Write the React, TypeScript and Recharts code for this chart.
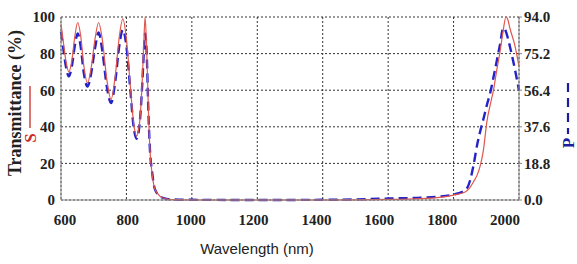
import { LineChart, Line, XAxis, YAxis, CartesianGrid } from 'recharts';

// wavelength samples (nm)
const wavelengths = [
  600, 606, 615, 624, 633, 642, 651, 660, 670, 681, 692, 704, 715, 726, 740, 753, 766, 778, 789, 800,
  812, 822, 831, 840, 848, 853, 857, 862, 867, 872, 878, 887, 903, 920, 940, 1000, 1200, 1400, 1500, 1600,
  1700, 1750, 1800, 1837, 1851, 1861, 1873, 1882, 1891, 1902, 1912, 1922, 1932, 1942, 1952, 1960, 1965,
  1972, 1988, 2000,
];

// S polarisation, left axis (%)
const sValues = [
  96, 88, 76, 70, 76, 89, 97, 90, 73, 64, 72, 88, 97, 88, 66, 55, 68, 89, 99, 88,
  62, 42, 35, 42, 64, 85, 100, 82, 50, 27, 15, 6, 2, 0.7, 0.2, 0, 0, 0, 0.1, 0.3,
  0.8, 1.3, 2.7, 4.5, 7, 10, 14, 19, 27, 43, 52, 60, 71, 81, 93, 100, 99,
  94, 84, 73,
];

// P polarisation, right axis
const pValues = [
  86.5, 79, 68.6, 63.5, 68.6, 79, 85.5, 79, 64.9, 58.3, 64.9, 78, 86, 77, 58.3, 49.8, 61.1, 79, 87.4, 79,
  56.4, 37.6, 31.5, 38.5, 58.3, 75.2, 85.5, 75.2, 46, 25.4, 15, 5.6, 1.9, 0.75, 0.3, 0.1, 0, 0.1, 0.3, 0.75,
  1.2, 1.7, 2.8, 5.2, 10.3, 17.9, 29.1, 35.7, 41.4, 48.9, 55, 63, 71.4, 79.9, 88.4, 86.5, 83.7,
  79, 66.7, 56.4,
];

const xTicks = [600, 800, 1000, 1200, 1400, 1600, 1800, 2000];
const leftTicks = [0, 20, 40, 60, 80, 100];
const rightTicks = [0, 18.8, 37.6, 56.4, 75.2, 94];

const data = wavelengths.map((w, i) => ({ w, s: sValues[i], p: pValues[i] }));

const serif = '"Liberation Serif", "Times New Roman", serif';

const XTick = ({ x, y, payload }: any) => {
  // labels sit a little inside the tick positions, like the original
  const shift = 4 - ((payload.value - 600) / 1400) * 18;
  return (
    <text x={x + shift} y={y + 17} textAnchor="middle" fontFamily={serif} fontWeight="bold" fontSize={15} fill="#222">
      {payload.value}
    </text>
  );
};

const LeftTitle = () => (
  <g>
    <text x={0} y={0} transform="translate(21,103) rotate(-90)" textAnchor="middle" fontFamily={serif} fontWeight="bold" fontSize={18} fill="#222">
      Transmittance (%)
    </text>
    <text x={0} y={0} transform="translate(36,138) rotate(-90)" textAnchor="middle" fontFamily={serif} fontWeight="bold" fontSize={17} fill="#cc2a2a">
      S
    </text>
    <line x1={30} y1={86} x2={30} y2={128} stroke="#cc2a2a" strokeWidth={1.3} />
  </g>
);

const RightTitle = () => (
  <g>
    <text x={0} y={0} transform="translate(574,143) rotate(-90)" textAnchor="middle" fontFamily={serif} fontWeight="bold" fontSize={17} fill="#1c1c9c">
      P
    </text>
    <line x1={568} y1={83} x2={568} y2={134} stroke="#1c1c9c" strokeWidth={2.2} strokeDasharray="9 6" />
  </g>
);

export default function App() {
  return (
    <div style={{ position: 'absolute', left: 0, top: 0, width: 577, height: 264, background: '#fff' }}>
      <LineChart width={577} height={264} data={data} margin={{ top: 17, right: 0, bottom: 0, left: 0 }}>
        <CartesianGrid yAxisId="left" stroke="#333" strokeDasharray="2 2" strokeWidth={1} />
        <XAxis
          dataKey="w"
          type="number"
          domain={[600, 2000]}
          ticks={xTicks}
          height={64}
          tickLine={false}
          axisLine={{ stroke: '#888' }}
          tick={<XTick />}
          label={{
            value: 'Wavelength (nm)',
            position: 'insideBottom',
            dx: -33,
            dy: -5,
            style: { fontFamily: '"Liberation Sans", Arial, sans-serif', fontSize: 15, fill: '#222' },
          }}
        />
        <YAxis
          yAxisId="left"
          domain={[0, 100]}
          ticks={leftTicks}
          width={61}
          tickSize={0}
          tickMargin={6}
          axisLine={{ stroke: '#888' }}
          tick={{ fontFamily: serif, fontWeight: 'bold', fontSize: 15, fill: '#222' }}
          label={{ content: () => <LeftTitle /> }}
        />
        <YAxis
          yAxisId="right"
          orientation="right"
          domain={[0, 94]}
          ticks={rightTicks}
          width={58}
          tickSize={3}
          tickMargin={2}
          tickLine={{ stroke: '#888' }}
          axisLine={{ stroke: '#888' }}
          tickFormatter={(v: number) => v.toFixed(1)}
          tick={{ fontFamily: serif, fontWeight: 'bold', fontSize: 15, fill: '#222' }}
          label={{ content: () => <RightTitle /> }}
        />
        <Line yAxisId="right" type="monotone" dataKey="p" stroke="#2323c8" strokeWidth={2.4} strokeDasharray="9 5" dot={false} isAnimationActive={false} />
        <Line yAxisId="left" type="monotone" dataKey="s" stroke="#e0574f" strokeWidth={1.2} dot={false} isAnimationActive={false} />
      </LineChart>
    </div>
  );
}
